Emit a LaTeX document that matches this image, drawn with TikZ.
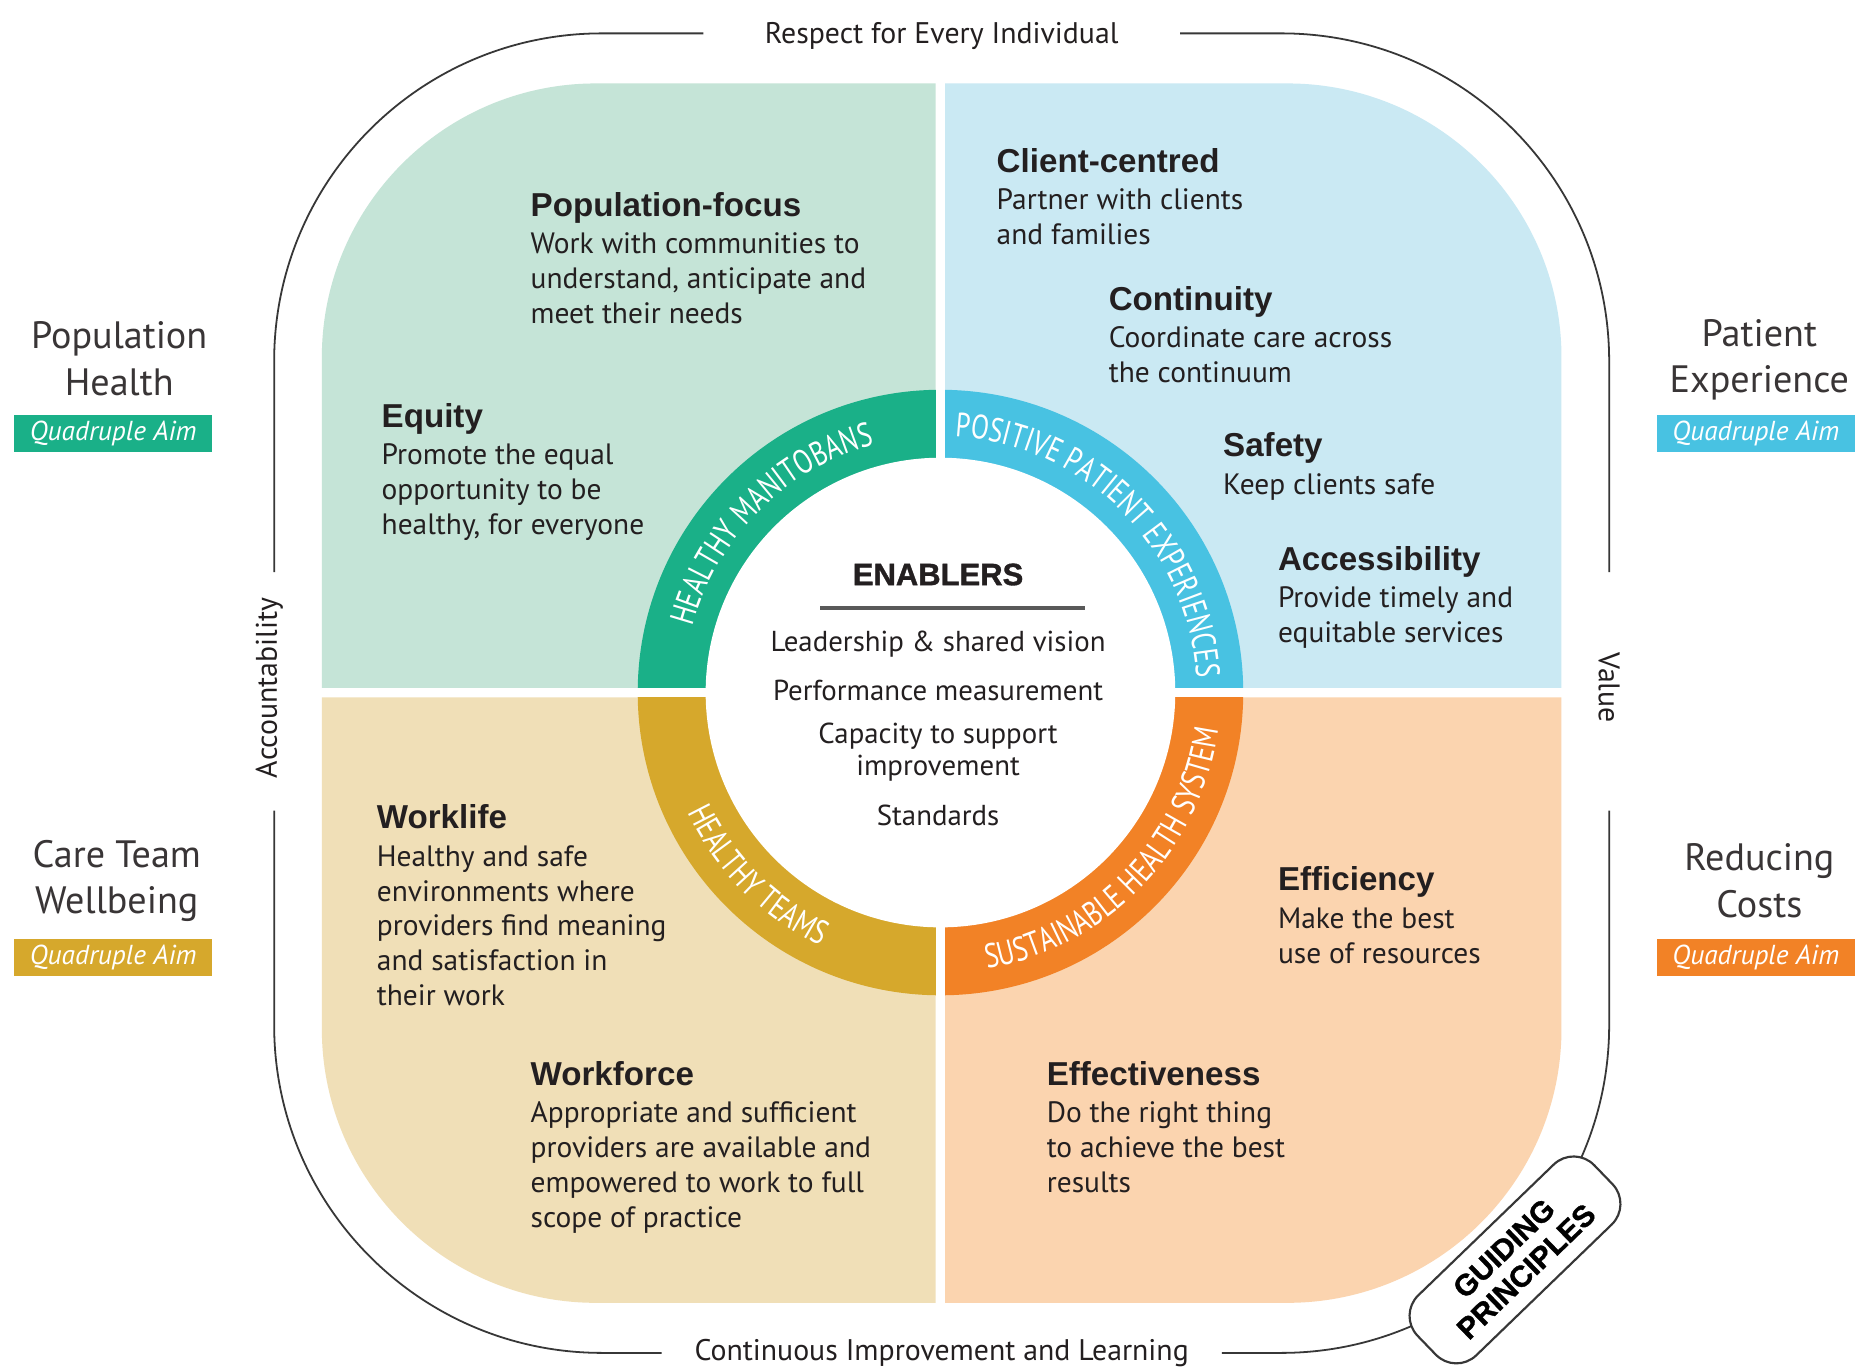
\documentclass[tikz,border=0pt]{standalone}
\usepackage{fontspec}
\setmainfont{PT Sans}
\newfontfamily\hfont{Liberation Sans}
\newfontfamily\hblack[BoldFeatures={FakeBold=1.2}]{Liberation Sans}
\newfontfamily\ringfont[FakeStretch=0.77]{PT Sans}
\usetikzlibrary{decorations.text}
\definecolor{mintbg}{RGB}{197,228,215}
\definecolor{skybg}{RGB}{202,233,243}
\definecolor{tanbg}{RGB}{240,223,183}
\definecolor{peachbg}{RGB}{251,212,175}
\definecolor{rgreen}{RGB}{26,176,136}
\definecolor{rblue}{RGB}{72,194,226}
\definecolor{rgold}{RGB}{214,168,44}
\definecolor{rorange}{RGB}{242,130,38}
\definecolor{txt}{RGB}{35,31,32}
\definecolor{framegray}{RGB}{55,55,55}
\newcommand\hd[1]{{\hfont\bfseries\fontsize{27.8}{29.3}\selectfont #1}\\[2pt]}
\newcommand\ringstyle{\ringfont\fontsize{28.5}{28.5}\selectfont}
\begin{document}
\begin{tikzpicture}[x=1pt,y=1pt,
  blk/.style={anchor=north west, align=left, inner sep=0pt, text=txt, font=\fontsize{24.7}{29.3}\selectfont},
  ctr/.style={inner sep=0pt, text=txt, align=center, font=\fontsize{24.2}{27}\selectfont},
  side/.style={inner sep=0pt, text=txt!90, align=center, font=\fontsize{32}{39}\selectfont},
  aim/.style={minimum width=166pt, minimum height=31pt, inner sep=0pt, text=white, font=\itshape\fontsize{23}{23}\selectfont},
  outer/.style={inner sep=0pt, text=txt, font=\fontsize{25}{25}\selectfont},
  frame/.style={draw=framegray, line width=1.5pt},
  ringtext/.style={decorate, decoration={text along path, text align=center, text color=white, text={|\ringstyle|#1}}}
]
\useasboundingbox (0,0) rectangle (1568,-1148);
\fill[white] (0,0) rectangle (1568,-1148);
\coordinate (C) at (789,-581);

% quadrants
\fill[mintbg] (785,-70) -- (500,-70) arc[start angle=90,end angle=180,radius=230pt] -- (270,-577) -- (785,-577) -- cycle;
\fill[skybg] (793,-70) -- (1080,-70) arc[start angle=90,end angle=0,radius=230pt] -- (1310,-577) -- (793,-577) -- cycle;
\fill[tanbg] (785,-585) -- (270,-585) -- (270,-863) arc[start angle=180,end angle=270,radius=230pt] -- (785,-1093) -- cycle;
\fill[peachbg] (793,-585) -- (1310,-585) -- (1310,-863) arc[start angle=0,end angle=-90,radius=230pt] -- (793,-1093) -- cycle;

% ring
\fill[rgreen] (C) -- ++(90:254pt) arc[start angle=90,end angle=180,radius=254pt] -- cycle;
\fill[rblue] (C) -- ++(0:254pt) arc[start angle=0,end angle=90,radius=254pt] -- cycle;
\fill[rgold] (C) -- ++(180:254pt) arc[start angle=180,end angle=270,radius=254pt] -- cycle;
\fill[rorange] (C) -- ++(270:254pt) arc[start angle=270,end angle=360,radius=254pt] -- cycle;
\fill[white] (C) circle[radius=197pt];
\fill[white] (785,-320) rectangle (793,-842);
\fill[white] (528,-577) rectangle (1050,-585);

\path[ringtext={HEALTHY MANITOBANS}] ([shift={(182:215pt)}]C) arc[start angle=182,end angle=88,radius=215pt];
\path[ringtext={POSITIVE PATIENT EXPERIENCES}] ([shift={(94:215pt)}]C) arc[start angle=94,end angle=-4,radius=215pt];
\path[ringtext={HEALTHY TEAMS}] ([shift={(178:235pt)}]C) arc[start angle=178,end angle=272,radius=235pt];
\path[ringtext={SUSTAINABLE HEALTH SYSTEM}] ([shift={(268:235pt)}]C) arc[start angle=268,end angle=364,radius=235pt];

% centre
\node[ctr, font=\hblack\bfseries\fontsize{26}{26}\selectfont] (enab) at (787,-482) {ENABLERS};
\draw[line width=3pt, draw=black!65] (688,-510) -- (910,-510);
\node[ctr] (en1) at (787,-540) {Leadership \& shared vision};
\node[ctr] (en2) at (787,-579) {Performance measurement};
\node[ctr] (en3) at (787,-631) {Capacity to support\\improvement};
\node[ctr] (en4) at (787,-684) {Standards};

% quadrant texts
\node[blk] (popf) at (445,-161) {\hd{Population-focus}Work with communities to\\understand, anticipate and\\meet their needs};
\node[blk] (equi) at (320,-338) {\hd{Equity}Promote the equal\\opportunity to be\\healthy, for everyone};
\node[blk] (clie) at (836,-124) {\hd{Client-centred}Partner with clients\\and families};
\node[blk] (cont) at (930,-240) {\hd{Continuity}Coordinate care across\\the continuum};
\node[blk] (safe) at (1026,-363) {\hd{Safety}Keep clients safe};
\node[blk] (acce) at (1072,-458) {\hd{Accessibility}Provide timely and\\equitable services};
\node[blk] (work) at (316,-675) {\hd{Worklife}Healthy and safe\\environments where\\providers find meaning\\and satisfaction in\\their work};
\node[blk] (wfor) at (445,-890) {\hd{Workforce}Appropriate and sufficient\\providers are available and\\empowered to work to full\\scope of practice};
\node[blk] (effi) at (1072,-727) {\hd{Efficiency}Make the best\\use of resources};
\node[blk] (effe) at (878,-890) {\hd{Effectiveness}Do the right thing\\to achieve the best\\results};

% frame
\draw[frame] (590,-28) -- (505,-28) arc[start angle=90,end angle=180,radius=275pt] -- (230,-480);
\draw[frame] (230,-680) -- (230,-860) arc[start angle=180,end angle=270,radius=275pt] -- (555,-1135);
\draw[frame] (1025,-1135) -- (1075,-1135) arc[start angle=270,end angle=360,radius=275pt] -- (1350,-680);
\draw[frame] (1350,-480) -- (1350,-303) arc[start angle=0,end angle=90,radius=275pt] -- (990,-28);
\node[outer] (resp) at (790,-30) {Respect for Every Individual};
\node[outer] (cimp) at (790,-1135.5) {Continuous Improvement and Learning};
\node[outer, rotate=90] (acct) at (226,-577) {Accountability};
\node[outer, rotate=-90] (valu) at (1350,-577) {Value};
\node[draw=framegray, line width=1.8pt, fill=white, rounded corners=24pt, minimum width=206pt, minimum height=70pt, inner sep=0pt, rotate=44, align=center, text=black, font=\hblack\bfseries\fontsize{25}{27}\selectfont] (guid) at (1271,-1057) {GUIDING\\PRINCIPLES};

% side labels
\node[side] (lph) at (100,-301) {Population\\Health};
\node[aim, fill=rgreen] (aph) at (95,-364) {Quadruple Aim};
\node[side] (lpe) at (1476,-302) {Patient\\Experience};
\node[aim, fill=rblue] (ape) at (1473,-364) {Quadruple Aim};
\node[side] (lct) at (98,-739) {Care Team\\Wellbeing};
\node[aim, fill=rgold] (act) at (95,-803) {Quadruple Aim};
\node[side] (lrc) at (1476,-739) {Reducing\\Costs};
\node[aim, fill=rorange] (arc) at (1473,-803) {Quadruple Aim};
\end{tikzpicture}
\end{document}
